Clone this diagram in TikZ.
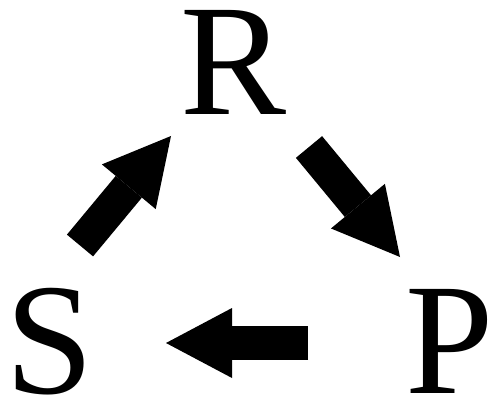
\documentclass[tikz,border=0pt]{standalone}
\usepackage{fontspec}
\setmainfont{Liberation Serif}
\usetikzlibrary{arrows.meta}
\tikzset{
  letter/.style={anchor=base, inner sep=0pt, font=\fontsize{159}{159}\selectfont},
  blockarrow/.style={line width=34pt, line cap=butt,
    -{Triangle[length=66pt, width=70pt, line width=0pt]}}
}
\begin{document}
\begin{tikzpicture}[x=1pt,y=1pt]
  \useasboundingbox (0,0) rectangle (498,405);
  \node[letter] (R) at (234,290) {R};
  \node[letter] (S) at (50,12) {S};
  \node[letter] (P) at (450,12) {P};
  \coordinate (srT) at (80,159.5);
  \coordinate (srH) at (171,269);
  \coordinate (rpT) at (309,258);
  \coordinate (rpH) at (400,148);
  \coordinate (psT) at (308,62);
  \coordinate (psH) at (166,62);
  \draw[blockarrow] (srT) -- (srH);
  \draw[blockarrow] (rpT) -- (rpH);
  \draw[blockarrow] (psT) -- (psH);
\end{tikzpicture}
\end{document}
